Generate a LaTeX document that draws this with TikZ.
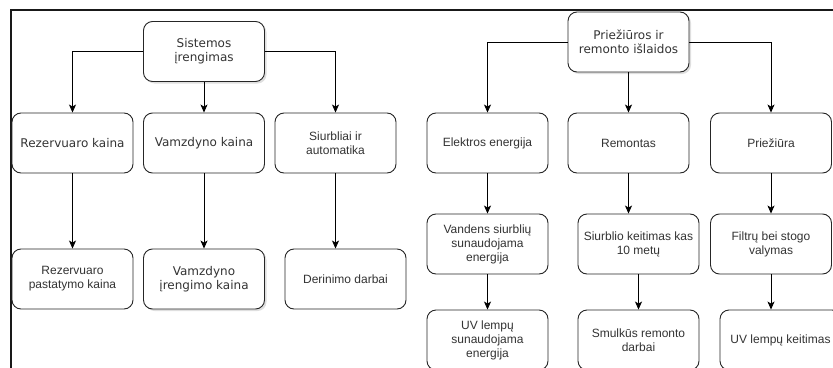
\documentclass[tikz,border=0pt]{standalone}
\usepackage{fontspec}
\setmainfont{Liberation Sans}
\newfontfamily\wideface{DejaVu Sans}
\usepackage{tikz}
\usetikzlibrary{arrows.meta, positioning, shadows}
\definecolor{txtgray}{HTML}{333333}

\tikzset{
    costbox/.style={draw=black!85, fill=white, line width=0.9pt, rounded corners=9pt,
        minimum width=121pt, minimum height=60pt, inner sep=2pt, align=center,
        text=txtgray, font=\fontsize{12}{14}\selectfont},
    widebox/.style={costbox, font=\wideface\fontsize{12}{14}\selectfont},
    shade/.style={drop shadow={opacity=0.25, shadow xshift=2pt, shadow yshift=-2pt}},
    link/.style={-{Stealth[length=8pt, width=7pt, inset=2pt]}, line width=0.8pt, black}
}

\begin{document}
\begin{tikzpicture}[x=1pt, y=-1pt]
    \useasboundingbox (0,0) rectangle (833,367);
    \clip (0,0) rectangle (833,367);

    % frame
    \draw[line width=2pt, black!90] (834,10) -- (10.5,10) -- (10.5,368);

    % installation costs
    \node[widebox, shade] (sist) at (204,51.5) {Sistemos\\įrengimas};
    \node[widebox] (rez) at (72.5,143) {Rezervuaro kaina};
    \node[widebox] (vamz) at (204,143) {Vamzdyno kaina};
    \node[costbox] (siurb) at (335.5,143) {Siurbliai ir\\automatika};
    \node[costbox] (rezpast) at (72.5,279) {Rezervuaro\\pastatymo kaina};
    \node[widebox, shade] (vamzir) at (204,279) {Vamzdyno\\įrengimo kaina};
    \node[costbox] (derin) at (345.5,279) {Derinimo darbai};

    % maintenance and repair costs
    \node[widebox, shade] (priez) at (628.5,42) {Priežiūros ir\\remonto išlaidos};
    \node[costbox] (elekt) at (487.5,143) {Elektros energija};
    \node[costbox] (remont) at (628.5,143) {Remontas};
    \node[costbox] (priezi) at (771,143) {Priežiūra};
    \node[costbox] (vand) at (487.5,244) {Vandens siurblių\\sunaudojama\\energija};
    \node[costbox] (siurbk) at (638.5,244) {Siurblio keitimas kas\\10 metų};
    \node[costbox] (filtr) at (771,244) {Filtrų bei stogo\\valymas};
    \node[costbox] (uvsun) at (487.5,340) {UV lempų\\sunaudojama\\energija};
    \node[costbox] (smulk) at (638.5,340) {Smulkūs remonto\\darbai};
    \node[costbox] (uvkeit) at (780.5,340) {UV lempų keitimas};

    \draw[link] (sist.west) -| (rez.north);
    \draw[link] (sist.south) -- (vamz.north);
    \draw[link] (sist.east) -| (siurb.north);
    \draw[link] (rez.south) -- (rezpast.north);
    \draw[link] (vamz.south) -- (vamzir.north);
    \draw[link] (siurb.south) -- (siurb.south |- derin.north);

    \draw[link] (priez.west) -| (elekt.north);
    \draw[link] (priez.south) -- (remont.north);
    \draw[link] (priez.east) -| (priezi.north);
    \draw[link] (elekt.south) -- (vand.north);
    \draw[link] (vand.south) -- (uvsun.north);
    \draw[link] (remont.south) -- (remont.south |- siurbk.north);
    \draw[link] (siurbk.south) -- (smulk.north);
    \draw[link] (priezi.south) -- (filtr.north);
    \draw[link] (filtr.south) -- (filtr.south |- uvkeit.north);
\end{tikzpicture}
\end{document}
